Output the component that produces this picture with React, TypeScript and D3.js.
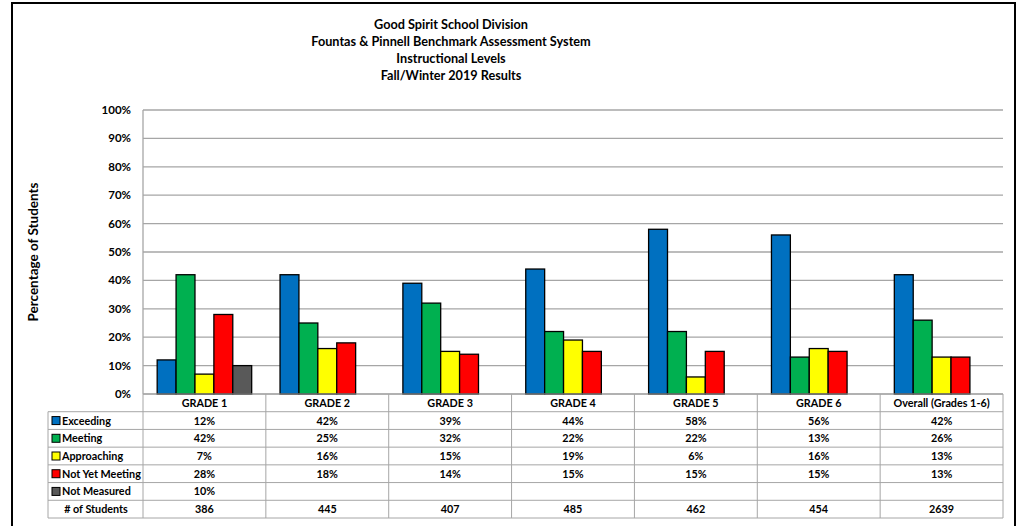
import * as d3 from "d3";

const categories = ["GRADE 1", "GRADE 2", "GRADE 3", "GRADE 4", "GRADE 5", "GRADE 6", "Overall (Grades 1-6)"];
const seriesNames = ["Exceeding", "Meeting", "Approaching", "Not Yet Meeting", "Not Measured"];
const exceeding = [12, 42, 39, 44, 58, 56, 42];
const meeting = [42, 25, 32, 22, 22, 13, 26];
const approaching = [7, 16, 15, 19, 6, 16, 13];
const notYetMeeting = [28, 18, 14, 15, 15, 15, 13];
const notMeasured: (number | null)[] = [10, null, null, null, null, null, null];
const students = [386, 445, 407, 485, 462, 454, 2639];
const yTicks = [0, 10, 20, 30, 40, 50, 60, 70, 80, 90, 100];
const titleLines = [
  "Good Spirit School Division",
  "Fountas & Pinnell Benchmark Assessment System",
  "Instructional Levels",
  "Fall/Winter 2019 Results",
];

const colors = ["#0070C0", "#00B050", "#FFFF00", "#FF0000", "#595959"];
const seriesValues = [exceeding, meeting, approaching, notYetMeeting, notMeasured];

const W = 1019;
const H = 526;
const font = "Lato, 'Open Sans', sans-serif";
const grid = "#A6A6A6";

export default function App() {
  const x = d3.scaleBand<string>().domain(categories).range([143, 1003]);
  // Excel-style clustered columns: gap width 150%
  const inner = d3
    .scaleBand<string>()
    .domain(seriesNames)
    .range([0, x.bandwidth()])
    .paddingInner(0)
    .paddingOuter(0.75);
  const y = d3.scaleLinear().domain([0, 100]).range([394, 110]);
  const rowKeys = ["header", ...seriesNames, "# of Students"];
  const rows = d3.scaleBand<string>().domain(rowKeys).range([394, 518]);
  const rh = rows.bandwidth();
  const fmt = (v: number | null) => (v == null ? "" : `${v}%`);

  return (
    <svg width={W} height={H} style={{ position: "absolute", left: 0, top: 0 }} fontFamily={font}>
      <rect x={0} y={0} width={W} height={H} fill="#fff" />
      {/* outer frame */}
      <rect x={12} y={3} width={1003} height={H + 10} fill="none" stroke="#000" strokeWidth={2} />

      {/* title */}
      {titleLines.map((t, i) => (
        <text key={t} x={451} y={28.5 + i * 17} textAnchor="middle" fontSize={12.7} fontWeight="bold" fill="#000">
          {t}
        </text>
      ))}

      {/* gridlines and y labels */}
      {yTicks.map((t) => (
        <g key={t}>
          <line x1={143} x2={1003} y1={y(t)} y2={y(t)} stroke={grid} strokeWidth={1.3} />
          <text x={131} y={y(t) + 4} textAnchor="end" fontSize={11.5} fontWeight="bold" fill="#000">
            {t}%
          </text>
        </g>
      ))}
      <line x1={143} x2={143} y1={110} y2={394} stroke={grid} strokeWidth={1.3} />

      <text
        transform={`translate(38,${(y(0) + y(100)) / 2}) rotate(-90)`}
        textAnchor="middle"
        fontSize={13.5}
        fontWeight="bold"
        fill="#000"
      >
        Percentage of Students
      </text>

      {/* bars */}
      {categories.map((c, ci) => (
        <g key={c} transform={`translate(${x(c)},0)`}>
          {seriesNames.map((s, si) => {
            const v = seriesValues[si][ci];
            if (v == null) return null;
            return (
              <rect
                key={s}
                x={inner(s)}
                y={y(v)}
                width={inner.bandwidth()}
                height={y(0) - y(v)}
                fill={colors[si]}
                stroke="#000"
                strokeWidth={1.3}
              />
            );
          })}
        </g>
      ))}

      {/* data table */}
      <g fontSize={10.8} fontWeight="bold" fill="#000">
        {/* horizontal lines */}
        {rowKeys.map((k, i) => (
          <line
            key={`h${k}`}
            x1={i === 0 ? 143 : 48}
            x2={1003}
            y1={rows(k)!}
            y2={rows(k)!}
            stroke={grid}
            strokeWidth={1}
          />
        ))}
        <line x1={48} x2={1003} y1={518} y2={518} stroke={grid} strokeWidth={1} />
        {/* vertical lines */}
        <line x1={48} x2={48} y1={rows(seriesNames[0])!} y2={518} stroke={grid} strokeWidth={1} />
        {categories.map((c) => (
          <line key={`v${c}`} x1={x(c)!} x2={x(c)!} y1={394} y2={518} stroke={grid} strokeWidth={1} />
        ))}
        <line x1={1003} x2={1003} y1={394} y2={518} stroke={grid} strokeWidth={1} />

        {/* header */}
        {categories.map((c) => (
          <text key={`hd${c}`} x={x(c)! + x.bandwidth() / 2} y={rows("header")! + rh / 2 + 4} textAnchor="middle">
            {c}
          </text>
        ))}

        {/* series rows */}
        {seriesNames.map((s, si) => (
          <g key={`r${s}`}>
            <rect x={52} y={rows(s)! + rh / 2 - 4} width={8} height={8} fill={colors[si]} stroke="#000" strokeWidth={1} />
            <text x={62} y={rows(s)! + rh / 2 + 4}>
              {s}
            </text>
            {categories.map((c, ci) => (
              <text key={c} x={x(c)! + x.bandwidth() / 2} y={rows(s)! + rh / 2 + 4} textAnchor="middle">
                {fmt(seriesValues[si][ci])}
              </text>
            ))}
          </g>
        ))}

        {/* students row */}
        <text x={96} y={rows("# of Students")! + rh / 2 + 4} textAnchor="middle">
          # of Students
        </text>
        {categories.map((c, ci) => (
          <text key={`n${c}`} x={x(c)! + x.bandwidth() / 2} y={rows("# of Students")! + rh / 2 + 4} textAnchor="middle">
            {students[ci]}
          </text>
        ))}
      </g>
    </svg>
  );
}
